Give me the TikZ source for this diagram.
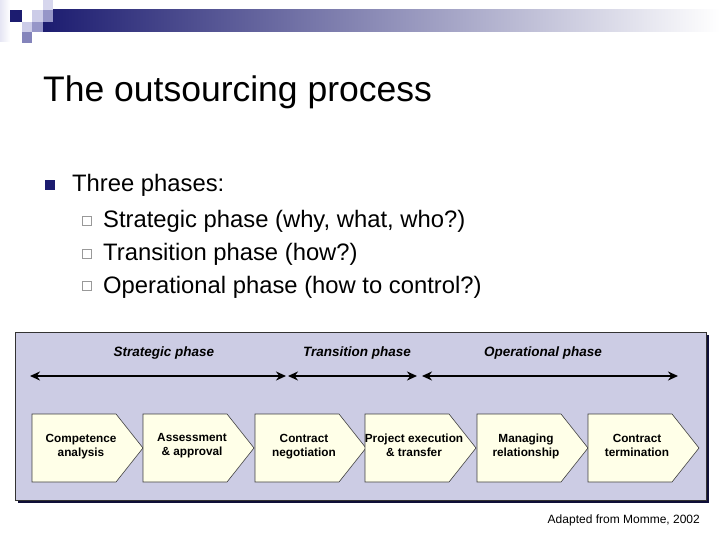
\documentclass[tikz,border=0pt]{standalone}
\usepackage{fontspec}
\setmainfont{Liberation Sans}
\usetikzlibrary{arrows.meta,shadings}

\definecolor{navy}{RGB}{28,28,112}
\definecolor{lav}{RGB}{204,204,232}
\definecolor{midlav}{RGB}{150,150,200}
\definecolor{panelbg}{RGB}{204,204,228}
\definecolor{boxbg}{RGB}{255,255,232}

\begin{document}
\begin{tikzpicture}[x=1pt,y=-1pt,
    title/.style={anchor=base west,inner sep=0pt,font=\fontsize{35.5}{40}\selectfont},
    item/.style={anchor=base west,inner sep=0pt,font=\fontsize{23.8}{28}\selectfont},
    hollow/.style={draw=black!40,fill=white,line width=0.6pt,minimum size=9pt,inner sep=0pt},
    phase/.style={font=\fontsize{13.5}{15}\selectfont\bfseries\itshape},
    stepbox/.style={align=center,inner sep=0pt,font=\fontsize{11.8}{14}\selectfont\bfseries,
        execute at begin node=\strut,execute at end node=\strut},
    chev/.style={draw=black!75,fill=boxbg,line width=0.6pt},
    span/.style={line width=2.6pt,{Stealth[length=10pt,width=9pt]}-{Stealth[length=10pt,width=9pt]}}
]
\useasboundingbox (0,0) rectangle (720,540);

% header bar and squares
\shade[left color=lav!50,right color=white] (0,0) rectangle (10,42);
\shade[left color=navy,right color=white] (43,10) rectangle (720,32);
\fill[navy] (10,10) rectangle (22,22);
\fill[lav] (32,10) rectangle (43,22);
\fill[lav!80] (43,0) rectangle (53,10);
\fill[midlav] (43,10) rectangle (53,22);
\fill[lav] (22,22) rectangle (32,32);
\fill[midlav] (32,22) rectangle (43,32);
\fill[midlav!85!navy] (22,32) rectangle (32,43);

\node[title] (head) at (43,102) {The outsourcing process};

% bullets
\node[fill=navy,minimum size=10pt,inner sep=0pt] (dot) at (50,185) {};
\node[item] (three) at (72,192) {Three phases:};
\node[hollow] (sq1) at (87,221) {};
\node[item] (l1) at (103,227) {Strategic phase (why, what, who?)};
\node[hollow] (sq2) at (87,254) {};
\node[item] (l2) at (103,260) {Transition phase (how?)};
\node[hollow] (sq3) at (87,286) {};
\node[item] (l3) at (103,293) {Operational phase (how to control?)};

% panel
\fill[navy!50!black] (18,335) rectangle (709,503);
\draw[fill=panelbg,draw=black!80,line width=0.6pt] (15,332) rectangle (706,500);

\node[phase] (strat) at (164,353) {Strategic phase};
\node[phase] (trans) at (357,353) {Transition phase};
\node[phase] (oper) at (543,353) {Operational phase};

\coordinate (sL) at (30,376);
\coordinate (sR) at (286,376);
\coordinate (tL) at (288,376);
\coordinate (tR) at (417,376);
\coordinate (oL) at (422,376);
\coordinate (oR) at (678,376);
\draw[span] (sL) -- (sR);
\draw[span] (tL) -- (tR);
\draw[span] (oL) -- (oR);

% process steps
\foreach \i/\x/\txt in {1/32/{Competence\\analysis},
                        2/143/{Assessment\\\& approval},
                        3/255/{Contract\\negotiation},
                        4/365/{Project execution\\\& transfer},
                        5/477/{Managing\\relationship},
                        6/588/{Contract\\termination}}{
  \draw[chev] (\x,414) -- ++(84,0) -- ++(27,34) -- ++(-27,34) -- ++(-84,0) -- cycle;
  \node[stepbox] (step\i) at (\x+49,447) {\txt};
}

\node[anchor=base east,inner sep=0pt,font=\fontsize{12}{14}\selectfont] (src) at (700,523) {Adapted from Momme, 2002};
\end{tikzpicture}
\end{document}
